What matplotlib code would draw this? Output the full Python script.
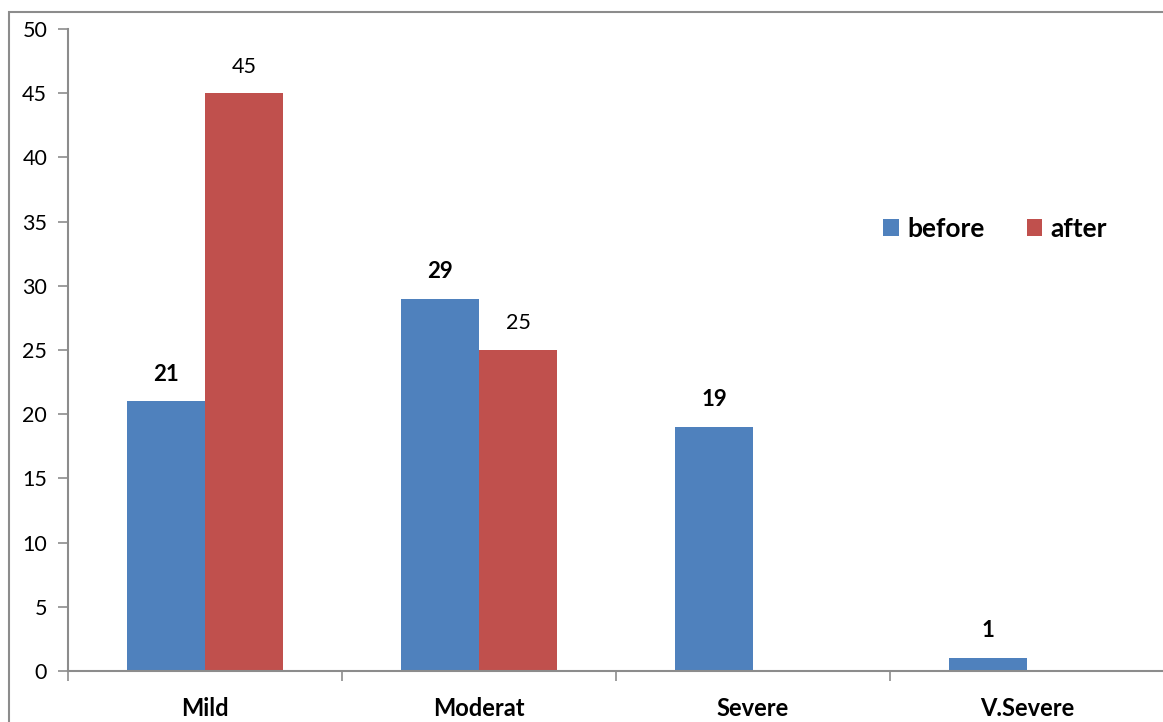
import matplotlib.pyplot as plt
from matplotlib.patches import Rectangle
import numpy as np

plt.rcParams['font.family'] = ['Lato', 'DejaVu Sans']

categories = ['Mild', 'Moderat', 'Severe', 'V.Severe']
before = [21, 29, 19, 1]
after = [45, 25, None, None]

W, H = 1163, 722
fig = plt.figure(figsize=(W / 100, H / 100), dpi=100)
ax = fig.add_axes([68 / W, (H - 671) / H, (1164 - 68) / W, (671 - 29) / H])

# outer chart border (cut off at right/bottom like the original)
fig.patches.append(Rectangle((9 / W, -0.1), 1.2, (H - 12) / H + 0.1,
                             transform=fig.transFigure, fill=False,
                             edgecolor='#8c8c8c', lw=1.5))

x = np.arange(len(categories)) + 0.5
w = 78 / 274
blue, red = '#4f81bd', '#c0504d'

ax.bar(x - w / 2, before, w, color=blue, label='before')
after_vals = [v if v is not None else 0 for v in after]
ax.bar(x + w / 2, after_vals, w, color=red, label='after')

for xi, v in zip(x, before):
    ax.text(xi - w / 2, v + 1.3, str(v), ha='center', va='bottom',
            fontsize=16, fontweight='bold')
for xi, v in zip(x, after):
    if v is not None:
        ax.text(xi + w / 2, v + 1.3, str(v), ha='center', va='bottom',
                fontsize=15.5)

ax.set_xlim(0, 4)
ax.set_ylim(0, 50)
ax.set_yticks(range(0, 51, 5))
ax.set_xticks(range(0, 5))
ax.set_xticklabels([])
ax.set_xticks(x, minor=True)
ax.set_xticklabels(categories, minor=True, fontsize=17, fontweight='bold')
ax.tick_params(axis='x', which='minor', length=0, pad=19)
ax.tick_params(axis='x', which='major', length=7, color='#8c8c8c', width=1.2)
ax.tick_params(axis='y', length=7, color='#8c8c8c', width=1.2, labelsize=15.5, pad=8)

for s in ['top', 'right']:
    ax.spines[s].set_visible(False)
for s in ['left', 'bottom']:
    ax.spines[s].set_color('#8c8c8c')
    ax.spines[s].set_linewidth(1.5)

ax.legend(loc='center', bbox_to_anchor=(995 / W, (H - 229) / H),
          bbox_transform=fig.transFigure, ncol=2, frameon=False,
          handlelength=0.6, handleheight=0.6, handletextpad=0.3,
          columnspacing=1.6, prop={'weight': 'bold', 'size': 19})

fig.savefig('out.png', dpi=100)
